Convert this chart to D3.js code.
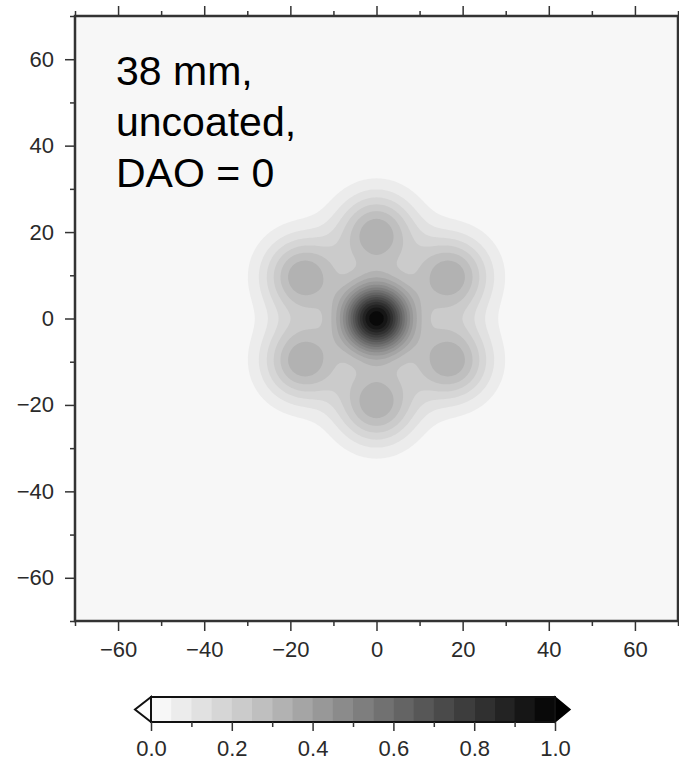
<!DOCTYPE html>
<html>
<head>
  <meta charset="utf-8">
  <title>38 mm uncoated, DAO = 0</title>
  <style>
    body { margin: 0; background: #fff; }
    .tick-label {
      font-family: "Liberation Sans", Arial, sans-serif;
      font-size: 22px;
      fill: #2a2a2a;
    }
    .note {
      font-family: "Liberation Sans", Arial, sans-serif;
      font-size: 41px;
      fill: #000;
    }
  </style>
</head>
<body>
  <svg id="chart"></svg>

  <script src="https://d3js.org/d3.v7.min.js"></script>
  <script>
    // Sources: centre peak plus six satellites on a hexagon
    const srcX = [0, 0, 17.1, 17.1, 0, -17.1, -17.1];
    const srcY = [0, 19.7, 9.8, -9.8, -19.7, -9.8, 9.8];
    const srcAmp = [0.97, 0.34, 0.34, 0.34, 0.34, 0.34, 0.34];
    const srcSigma = [5.6, 6.5, 6.5, 6.5, 6.5, 6.5, 6.5];

    // contour levels and their fills
    const levels = d3.range(0, 1.0001, 0.05).map(v => +v.toFixed(2)).slice(0, 20);
    const levelColors = ["#f7f7f7", "#ececec", "#e1e1e1", "#d6d6d6", "#cbcbcb",
      "#bfbfbf", "#b2b2b2", "#a5a5a5", "#989898", "#8b8b8b",
      "#7e7e7e", "#717171", "#646464", "#575757", "#4a4a4a",
      "#3d3d3d", "#303030", "#232323", "#161616", "#090909"];

    // ticks
    const axisMajor = [-60, -40, -20, 0, 20, 40, 60];
    const axisMinor = [-70, -50, -30, -10, 10, 30, 50, 70];
    const barMajor = [0, 0.2, 0.4, 0.6, 0.8, 1.0];
    const barMinor = [0.1, 0.3, 0.5, 0.7, 0.9];
    const noteLines = ["38 mm,", "uncoated,", "DAO = 0"];

    const width = 679, height = 763;
    const svg = d3.select("#chart").attr("width", width).attr("height", height);

    const x = d3.scaleLinear().domain([-70, 70]).range([75, 678]);
    const y = d3.scaleLinear().domain([-70, 70]).range([621, 16]);

    // build the grid
    const step = 0.5;
    const n = Math.round(140 / step) + 1;
    const values = new Array(n * n);
    for (let j = 0; j < n; j++) {
      const gy = 70 - j * step;
      for (let i = 0; i < n; i++) {
        const gx = -70 + i * step;
        let v = 0;
        for (let k = 0; k < srcX.length; k++) {
          const dx = gx - srcX[k], dy = gy - srcY[k];
          v += srcAmp[k] * Math.exp(-(dx * dx + dy * dy) / (2 * srcSigma[k] * srcSigma[k]));
        }
        values[j * n + i] = v;
      }
    }

    svg.append("clipPath").attr("id", "plot-clip")
      .append("rect")
      .attr("x", x(-70)).attr("y", y(70))
      .attr("width", x(70) - x(-70)).attr("height", y(-70) - y(70));

    const plot = svg.append("g").attr("clip-path", "url(#plot-clip)");

    plot.append("rect")
      .attr("x", x(-70)).attr("y", y(70))
      .attr("width", x(70) - x(-70)).attr("height", y(-70) - y(70))
      .attr("fill", levelColors[0]);

    const contours = d3.contours()
      .size([n, n])
      .thresholds(levels.slice(1))(values);

    const proj = d3.geoTransform({
      point: function(px, py) {
        this.stream.point(x(-70 + (px - 0.5) * step), y(70 - (py - 0.5) * step));
      }
    });
    const path = d3.geoPath(proj);

    plot.selectAll(".band")
      .data(contours)
      .enter()
      .append("path")
      .attr("class", "band")
      .attr("d", path)
      .attr("fill", (d, i) => levelColors[i + 1]);

    // annotation
    const note = svg.append("text").attr("class", "note");
    noteLines.forEach((t, i) => {
      note.append("tspan").attr("x", 116).attr("y", 85 + i * 51).text(t);
    });

    // axes
    const fmt = d3.format("d");
    function styleAxis(g) {
      g.select(".domain").remove();
      g.selectAll("line").attr("stroke", "#333").attr("stroke-width", 1.5);
      g.selectAll("text").attr("class", "tick-label").attr("fill", null);
    }

    svg.append("g")
      .attr("transform", `translate(0,${y(-70)})`)
      .call(d3.axisBottom(x).tickValues(axisMajor).tickSize(10).tickPadding(7).tickFormat(fmt))
      .call(styleAxis)
      .call(g => g.selectAll("text").attr("dy", "0.85em"));
    svg.append("g")
      .attr("transform", `translate(0,${y(-70)})`)
      .call(d3.axisBottom(x).tickValues(axisMinor).tickSize(5).tickFormat(""))
      .call(styleAxis);

    svg.append("g")
      .attr("transform", `translate(0,${y(70)})`)
      .call(d3.axisTop(x).tickValues(axisMajor).tickSize(10).tickFormat(""))
      .call(styleAxis);
    svg.append("g")
      .attr("transform", `translate(0,${y(70)})`)
      .call(d3.axisTop(x).tickValues(axisMinor).tickSize(5).tickFormat(""))
      .call(styleAxis);

    svg.append("g")
      .attr("transform", `translate(${x(-70)},0)`)
      .call(d3.axisLeft(y).tickValues(axisMajor).tickSize(10).tickPadding(11).tickFormat(fmt))
      .call(styleAxis);
    svg.append("g")
      .attr("transform", `translate(${x(-70)},0)`)
      .call(d3.axisLeft(y).tickValues(axisMinor).tickSize(5).tickFormat(""))
      .call(styleAxis);

    svg.append("rect")
      .attr("x", x(-70)).attr("y", y(70))
      .attr("width", x(70) - x(-70)).attr("height", y(-70) - y(70))
      .attr("fill", "none")
      .attr("stroke", "#333")
      .attr("stroke-width", 2.5);

    // colour bar
    const cb = d3.scaleLinear().domain([0, 1]).range([151, 555]);
    const cbTop = 697, cbBot = 722, cbMid = (cbTop + cbBot) / 2;
    const bar = svg.append("g");

    bar.selectAll(".cell")
      .data(levels)
      .enter()
      .append("rect")
      .attr("class", "cell")
      .attr("x", d => cb(d))
      .attr("y", cbTop)
      .attr("width", cb(0.05) - cb(0) + 0.5)
      .attr("height", cbBot - cbTop)
      .attr("fill", (d, i) => levelColors[i]);

    bar.append("path")
      .attr("d", `M${cb(0)},${cbTop} L${cb(0) - 16},${cbMid} L${cb(0)},${cbBot} Z`)
      .attr("fill", "#fff").attr("stroke", "#111").attr("stroke-width", 2);
    bar.append("path")
      .attr("d", `M${cb(1)},${cbTop} L${cb(1) + 15},${cbMid} L${cb(1)},${cbBot} Z`)
      .attr("fill", "#000").attr("stroke", "#000").attr("stroke-width", 1.5);
    bar.append("rect")
      .attr("x", cb(0)).attr("y", cbTop)
      .attr("width", cb(1) - cb(0)).attr("height", cbBot - cbTop)
      .attr("fill", "none").attr("stroke", "#111").attr("stroke-width", 2);

    svg.append("g")
      .attr("transform", `translate(0,${cbBot})`)
      .call(d3.axisBottom(cb).tickValues(barMajor).tickSize(9).tickPadding(6).tickFormat(d3.format(".1f")))
      .call(styleAxis)
      .call(g => g.selectAll("text").attr("dy", "0.85em"));
    svg.append("g")
      .attr("transform", `translate(0,${cbBot})`)
      .call(d3.axisBottom(cb).tickValues(barMinor).tickSize(5).tickFormat(""))
      .call(styleAxis);
  </script>
</body>
</html>
